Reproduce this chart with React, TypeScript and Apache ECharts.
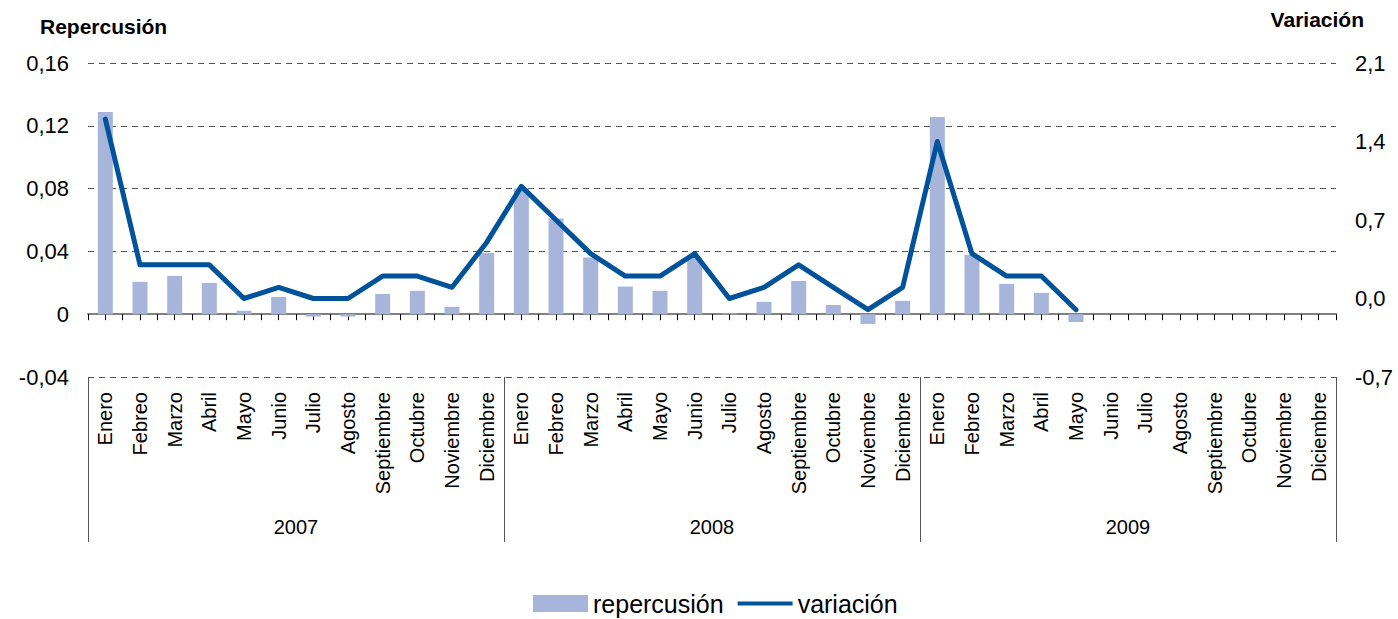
import React, { useEffect, useRef } from "react";
import * as echarts from "echarts";

const months = [
  "Enero", "Febreo", "Marzo", "Abril", "Mayo", "Junio", "Julio", "Agosto",
  "Septiembre", "Octubre", "Noviembre", "Diciembre",
];
const years = ["2007", "2008", "2009"];
const categories: string[] = years.flatMap((y) => months.map((m) => m + " " + y));
const monthLabels: string[] = years.flatMap(() => months);

const repercusion: (number | null)[] = [
  0.1288, 0.0206, 0.0244, 0.0199, 0.0022, 0.011, -0.0015, -0.0015, 0.0129, 0.0149, 0.0047, 0.039,
  0.0800, 0.0609, 0.0361, 0.0176, 0.0149, 0.0360, 0.0005, 0.0079, 0.0212, 0.0059, -0.0062, 0.0085,
  0.1256, 0.0378, 0.0193, 0.0136, -0.0050, null, null, null, null, null, null, null,
];
const variacion: (number | null)[] = [
  1.6, 0.3, 0.3, 0.3, 0.0, 0.1, 0.0, 0.0, 0.2, 0.2, 0.1, 0.5,
  1.0, 0.7, 0.4, 0.2, 0.2, 0.4, 0.0, 0.1, 0.3, 0.1, -0.1, 0.1,
  1.4, 0.4, 0.2, 0.2, -0.1, null, null, null, null, null, null, null,
];

const FONT = "'Liberation Sans', Arial, sans-serif";
const LINE_COLOR = "#00529A";

export default function App() {
  const ref = useRef<HTMLDivElement>(null);
  useEffect(() => {
    document.body.style.margin = "0";
    const chart = echarts.init(ref.current!, null, { renderer: "svg" });
    const fmtLeft = (v: number) =>
      Math.abs(v) < 1e-9 ? "0" : v.toFixed(2).replace(".", ",");
    const fmtRight = (v: number) => {
      const r = Math.abs(v) < 1e-9 ? 0 : v;
      return r.toFixed(1).replace(".", ",");
    };
    chart.setOption({
      animation: false,
      textStyle: { fontFamily: FONT },
      grid: { left: 88, right: 62, top: 63, bottom: 242, containLabel: false },
      legend: {
        left: 528,
        top: 586,
        itemWidth: 55,
        itemHeight: 17,
        itemGap: 14,
        textStyle: { fontSize: 25, color: "#000", fontFamily: FONT },
        data: [
          { name: "repercusión", icon: "rect" },
          {
            name: "variación",
            icon: "path://M0,0 L60,0 L60,4.5 L0,4.5 Z",
            itemStyle: { color: LINE_COLOR, borderWidth: 0 },
          },
        ],
      },
      graphic: [
        {
          type: "text",
          left: 40,
          top: 16,
          style: {
            text: "Repercusión",
            fontSize: 21,
            fontWeight: "bold",
            fontFamily: FONT,
            fill: "#000",
          },
        },
        {
          type: "text",
          right: 34,
          top: 9,
          style: {
            text: "Variación",
            fontSize: 21,
            fontWeight: "bold",
            fontFamily: FONT,
            fill: "#000",
          },
        },
      ],
      xAxis: [
        {
          type: "category",
          data: categories,
          position: "bottom",
          boundaryGap: true,
          axisLine: {
            show: true,
            onZero: true,
            onZeroAxisIndex: 0,
            lineStyle: { color: "#808080", width: 2 },
          },
          axisTick: {
            show: true,
            interval: 0,
            alignWithLabel: false,
            length: 6,
            lineStyle: { color: "#000", width: 1 },
          },
          axisLabel: { show: false },
          splitLine: { show: false },
        },
        {
          type: "category",
          data: categories,
          position: "bottom",
          axisLine: { show: false, onZero: true, onZeroAxisIndex: 0 },
          axisTick: {
            show: true,
            interval: 0,
            alignWithLabel: true,
            length: 6,
            lineStyle: { color: "#000", width: 1 },
          },
          axisLabel: { show: false },
          splitLine: { show: false },
        },
        {
          type: "category",
          data: monthLabels,
          position: "bottom",
          axisLine: { show: false, onZero: false },
          axisTick: { show: false },
          axisLabel: {
            show: true,
            interval: 0,
            rotate: 90,
            margin: 15,
            fontSize: 20,
            color: "#000",
            fontFamily: FONT,
          },
          splitLine: { show: false },
        },
        {
          type: "category",
          data: years,
          position: "bottom",
          axisLine: { show: false, onZero: false },
          axisTick: {
            show: true,
            interval: 0,
            alignWithLabel: false,
            length: 165,
            lineStyle: { color: "#555", width: 1 },
          },
          axisLabel: {
            show: true,
            interval: 0,
            margin: 140,
            fontSize: 20,
            color: "#000",
            fontFamily: FONT,
          },
          splitLine: { show: false },
        },
      ],
      yAxis: [
        {
          type: "value",
          position: "left",
          min: -0.04,
          max: 0.16,
          interval: 0.04,
          axisLine: { show: false },
          axisTick: { show: false },
          axisLabel: {
            formatter: fmtLeft,
            fontSize: 22,
            color: "#000",
            margin: 19,
            fontFamily: FONT,
          },
          splitLine: {
            show: true,
            lineStyle: { color: "#555", type: [6, 5], width: 1 },
          },
        },
        {
          type: "value",
          position: "right",
          min: -0.7,
          max: 2.1,
          interval: 0.7,
          axisLine: { show: false },
          axisTick: { show: false },
          axisLabel: {
            formatter: fmtRight,
            fontSize: 22,
            color: "#000",
            margin: 19,
            fontFamily: FONT,
          },
          splitLine: { show: false },
        },
      ],
      series: [
        {
          name: "repercusión",
          type: "bar",
          xAxisIndex: 0,
          yAxisIndex: 0,
          data: repercusion,
          barWidth: 15,
          itemStyle: { color: "#A8B5DA" },
          z: 1,
        },
        {
          name: "variación",
          type: "line",
          xAxisIndex: 0,
          yAxisIndex: 1,
          data: variacion,
          symbol: "none",
          showSymbol: false,
          lineStyle: { color: LINE_COLOR, width: 5, cap: "round", join: "round" },
          itemStyle: { color: LINE_COLOR },
          z: 5,
        },
      ],
    });
    return () => chart.dispose();
  }, []);
  return (
    <div
      ref={ref}
      style={{ width: 1398, height: 619, position: "absolute", left: 0, top: 0 }}
    />
  );
}
